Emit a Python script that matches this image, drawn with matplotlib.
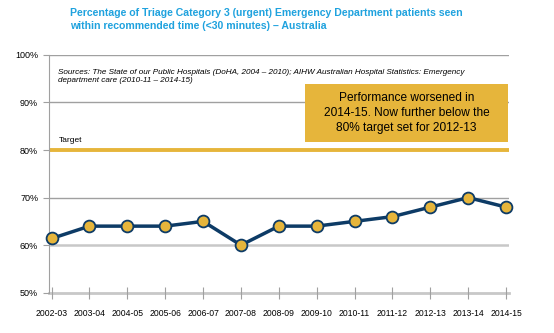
import matplotlib
matplotlib.use('Agg')
from matplotlib import pyplot as plt
from matplotlib.patches import Rectangle

years = ['2002-03', '2003-04', '2004-05', '2005-06', '2006-07', '2007-08', '2008-09',
         '2009-10', '2010-11', '2011-12', '2012-13', '2013-14', '2014-15']
pct = [61.4, 64, 64, 64, 65, 60, 64, 64, 65, 66, 68, 70, 68]
target = 80
yticks = [50, 60, 70, 80, 90, 100]

gold = '#E6B53B'
navy = '#0D3B66'
blue = '#1FA2DE'
fam = ['Liberation Sans Narrow', 'Liberation Sans', 'DejaVu Sans']

plt.rcParams['font.family'] = fam

fig = plt.figure(figsize=(5.54, 3.33), dpi=100)
ax = fig.add_axes([0.089, 0.121, 0.83, 0.714])

x = list(range(len(years)))
ax.set_xlim(-0.06, 12.08)
ax.set_ylim(50, 100)

for v in [70, 90, 100]:
    ax.axhline(v, color='#A0A0A0', lw=1, zorder=1)
ax.axhline(60, color='#C8C8C8', lw=1.8, zorder=1)
ax.axhline(target, color=gold, lw=2.8, zorder=2)

ax.plot(x, pct, color=navy, lw=2.5, marker='o', markersize=8.5,
        markerfacecolor=gold, markeredgecolor=navy, markeredgewidth=1.3,
        zorder=4, clip_on=False)

ax.set_xticks(x)
ax.set_xticklabels(years, fontsize=6.2)
ax.set_yticks(yticks)
ax.set_yticklabels([f'{v}%' for v in yticks], fontsize=6.5)
ax.tick_params(axis='x', direction='inout', length=8, color='#A0A0A0', pad=8)
ax.tick_params(axis='y', direction='out', length=4, color='#A0A0A0', pad=4)

for s in ['top', 'right']:
    ax.spines[s].set_visible(False)
ax.spines['left'].set_color('#A0A0A0')
ax.spines['bottom'].set_color('#C8C8C8')
ax.spines['bottom'].set_linewidth(2)
ax.spines['bottom'].set_zorder(1)

ax.text(0.2, 81.2, 'Target', fontsize=6, ha='left', va='bottom')
ax.text(0.17, 97.1, 'Sources: The State of our Public Hospitals (DoHA, 2004 \u2013 2010); '
        'AIHW Australian Hospital Statistics: Emergency\ndepartment care (2010-11 \u2013 2014-15)',
        fontsize=5.9, style='italic', ha='left', va='top', linespacing=1.35)

ax.add_patch(Rectangle((6.69, 81.7), 5.36, 12.2, facecolor=gold, edgecolor='none', zorder=5))
ax.text(9.37, 87.8, 'Performance worsened in\n2014-15. Now further below the\n80% target set for 2012-13',
        fontsize=8.6, ha='center', va='center', linespacing=1.3, zorder=6)

fig.text(0.127, 0.977, 'Percentage of Triage Category 3 (urgent) Emergency Department patients seen\n'
         'within recommended time (<30 minutes) \u2013 Australia',
         fontsize=7.6, fontweight='bold', color=blue, ha='left', va='top', linespacing=1.4)

fig.savefig('out.png', dpi=100)
